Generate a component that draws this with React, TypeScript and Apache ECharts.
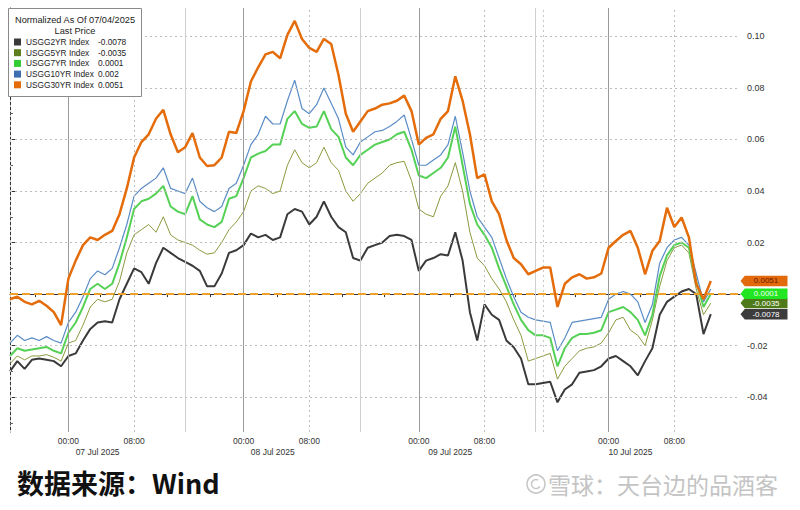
import React, { useEffect, useRef } from 'react';
import * as echarts from 'echarts';

const FONT = '"Liberation Sans", Arial, sans-serif';
const CJK = '"Noto Sans CJK SC", sans-serif';

const seriesNames = ['USGG2YR Index', 'USGG5YR Index', 'USGG7YR Index', 'USGG10YR Index', 'USGG30YR Index'];
const lastPrice = ['-0.0078', '-0.0035', '0.0001', '0.002', '0.0051'];
const lineColors = ['#3a3a3a', '#8a9a3e', '#55d155', '#5a8cc6', '#e46c0a'];
const legendColors = ['#3a3a3a', '#5d7d1e', '#33cc33', '#3f6fb0', '#e46c0a'];
const lineWidths = [2, 1, 2, 1.2, 2.5];
const tagColors = ['#3c3c3c', '#4f7a1a', '#22e622', '#3f6fb0', '#e26a0c'];
const tagText = ['#ffffff', '#ffffff', '#f2fff2', '#ffffff', '#6a1800'];
// the 10Y end tag is hidden behind the others in the reference
const showTag = [true, true, true, false, true];

// sampled values (normalized change since 07/04/2025), evenly spaced samples
const us2y = [
  -0.030, -0.026, -0.029, -0.0255, -0.025, -0.0255, -0.026, -0.028, -0.024, -0.023,
  -0.018, -0.0135, -0.011, -0.0105, -0.011, -0.002, 0.004, 0.010, 0.0085, 0.004,
  0.012, 0.018, 0.016, 0.014, 0.0125, 0.011, 0.009, 0.003, 0.003, 0.008,
  0.016, 0.017, 0.019, 0.0235, 0.022, 0.023, 0.021, 0.022, 0.031, 0.033,
  0.032, 0.027, 0.030, 0.036, 0.030, 0.026, 0.024, 0.014, 0.013, 0.018,
  0.019, 0.020, 0.0225, 0.023, 0.0225, 0.021, 0.009, 0.013, 0.014, 0.0155,
  0.015, 0.024, 0.013, -0.007, -0.018, -0.004, -0.008, -0.010, -0.018, -0.0206,
  -0.025, -0.035, -0.035, -0.0345, -0.034, -0.042, -0.037, -0.035, -0.0305, -0.030,
  -0.0295, -0.028, -0.025, -0.024, -0.026, -0.028, -0.0315, -0.026, -0.021, -0.008,
  -0.003, -0.001, 0.001, 0.002, 0.000, -0.0155, -0.0078,
];
const us5y = [
  -0.027, -0.024, -0.0255, -0.024, -0.024, -0.0235, -0.0245, -0.026, -0.019, -0.018,
  -0.012, -0.005, -0.002, -0.003, -0.002, 0.005, 0.016, 0.023, 0.025, 0.027,
  0.024, 0.030, 0.023, 0.021, 0.020, 0.019, 0.017, 0.0155, 0.016, 0.020,
  0.025, 0.028, 0.032, 0.040, 0.042, 0.041, 0.039, 0.040, 0.050, 0.056,
  0.051, 0.049, 0.051, 0.057, 0.051, 0.048, 0.040, 0.036, 0.039, 0.043,
  0.045, 0.047, 0.050, 0.051, 0.0515, 0.044, 0.033, 0.031, 0.030, 0.038,
  0.042, 0.051, 0.040, 0.024, 0.014, 0.011, 0.006, 0.002, -0.003, -0.010,
  -0.016, -0.026, -0.025, -0.024, -0.023, -0.033, -0.028, -0.025, -0.022, -0.021,
  -0.0205, -0.019, -0.015, -0.010, -0.009, -0.014, -0.016, -0.020, -0.010, 0.003,
  0.013, 0.018, 0.019, 0.016, 0.002, -0.008, -0.0035,
];
const us7y = [
  -0.024, -0.021, -0.022, -0.0215, -0.021, -0.0205, -0.022, -0.023, -0.015, -0.011,
  -0.005, 0.002, 0.004, 0.002, 0.004, 0.012, 0.022, 0.033, 0.036, 0.037,
  0.039, 0.042, 0.034, 0.032, 0.031, 0.038, 0.029, 0.027, 0.026, 0.028,
  0.037, 0.038, 0.045, 0.053, 0.0545, 0.0555, 0.058, 0.058, 0.068, 0.071,
  0.066, 0.0645, 0.065, 0.071, 0.064, 0.061, 0.053, 0.050, 0.054, 0.056,
  0.058, 0.059, 0.060, 0.062, 0.063, 0.056, 0.046, 0.045, 0.047, 0.049,
  0.053, 0.065, 0.050, 0.035, 0.027, 0.023, 0.018, 0.010, 0.003, -0.004,
  -0.010, -0.014, -0.016, -0.016, -0.017, -0.028, -0.021, -0.017, -0.0155, -0.0155,
  -0.015, -0.014, -0.007, -0.006, -0.005, -0.007, -0.010, -0.016, -0.008, 0.007,
  0.015, 0.019, 0.020, 0.018, 0.005, -0.005, 0.0001,
];
const us10y = [
  -0.019, -0.016, -0.018, -0.017, -0.018, -0.0165, -0.018, -0.019, -0.011, -0.007,
  -0.001, 0.006, 0.009, 0.0075, 0.010, 0.018, 0.027, 0.038, 0.041, 0.043,
  0.045, 0.049, 0.041, 0.040, 0.039, 0.045, 0.036, 0.0335, 0.032, 0.034,
  0.041, 0.043, 0.050, 0.058, 0.062, 0.069, 0.066, 0.066, 0.075, 0.083,
  0.072, 0.070, 0.0735, 0.080, 0.074, 0.068, 0.057, 0.054, 0.059, 0.061,
  0.063, 0.0635, 0.065, 0.067, 0.0695, 0.060, 0.050, 0.050, 0.052, 0.054,
  0.058, 0.069, 0.055, 0.040, 0.030, 0.026, 0.022, 0.014, 0.006, -0.001,
  -0.007, -0.009, -0.010, -0.0105, -0.011, -0.022, -0.017, -0.011, -0.0105, -0.010,
  -0.0095, -0.009, -0.002, 0.000, 0.001, 0.000, -0.003, -0.011, -0.004, 0.012,
  0.018, 0.021, 0.022, 0.019, 0.008, -0.003, 0.002,
];
const us30y = [
  -0.002, -0.001, -0.003, -0.004, -0.0026, -0.0045, -0.007, -0.012, 0.006, 0.013,
  0.019, 0.022, 0.021, 0.023, 0.0245, 0.031, 0.041, 0.053, 0.059, 0.062,
  0.068, 0.0715, 0.062, 0.055, 0.057, 0.0625, 0.053, 0.0497, 0.050, 0.053,
  0.063, 0.0625, 0.071, 0.0825, 0.088, 0.093, 0.094, 0.0915, 0.1006, 0.106,
  0.099, 0.0955, 0.094, 0.099, 0.097, 0.085, 0.070, 0.063, 0.067, 0.071,
  0.072, 0.0735, 0.074, 0.075, 0.077, 0.071, 0.058, 0.0606, 0.062, 0.068,
  0.071, 0.0845, 0.075, 0.062, 0.045, 0.0465, 0.036, 0.031, 0.021, 0.014,
  0.0116, 0.0077, 0.009, 0.0103, 0.0103, -0.005, 0.004, 0.0065, 0.0077, 0.006,
  0.0065, 0.008, 0.018, 0.0206, 0.023, 0.0245, 0.018, 0.0077, 0.0168, 0.0206,
  0.0335, 0.026, 0.0297, 0.022, 0.004, -0.002, 0.0051,
];
const allSeries = [us2y, us5y, us7y, us10y, us30y];

// x axis (sample-index units)
const xMax = 100;
const timeTickAt = [8, 17, 32, 41, 56, 65, 82, 91];
const timeTickLabels = ['00:00', '08:00', '00:00', '08:00', '00:00', '08:00', '00:00', '08:00'];
const minorTickAt = [3.4, 8, 12.3, 17, 21.5, 27.4, 32, 36.6, 41, 45.5, 51.2, 56, 60.3, 65, 69.2, 77.4, 82, 86.3, 91, 95.2];
const daySepAt = [0, 24, 48, 72];
const dayLabelAt = [12, 36, 60.3, 85];
const dayLabels = ['07 Jul 2025', '08 Jul 2025', '09 Jul 2025', '10 Jul 2025'];
const extraDottedAt = [0, 73];

// y axis
const yMin = -0.0535;
const yMax = 0.111;
const yLabelValues = [-0.04, -0.02, 0.02, 0.04, 0.06, 0.08, 0.1];
const yMajorTicks = [-0.04, -0.02, 0, 0.02, 0.04, 0.06, 0.08, 0.1];
const yMinorTicks = [-0.05, -0.03, -0.01, 0.01, 0.03, 0.05, 0.07, 0.09, 0.11];
const yGridLines = [-0.04, -0.02, 0.02, 0.04, 0.06, 0.08, 0.1];

export default function App() {
  const ref = useRef<HTMLDivElement>(null);

  useEffect(() => {
    if (!ref.current) return;
    const chart = echarts.init(ref.current, undefined, { renderer: 'svg' });

    const gridMarks: any[] = [];
    yGridLines.forEach((v) => gridMarks.push({ yAxis: v, lineStyle: { color: '#bdbdbd', type: [2, 3], width: 1 } }));
    timeTickAt.forEach((v, i) => {
      if (timeTickLabels[i] === '00:00') gridMarks.push({ xAxis: v, lineStyle: { color: '#9a9a9a', type: 'solid', width: 1 } });
      else gridMarks.push({ xAxis: v, lineStyle: { color: '#bdbdbd', type: [2, 3], width: 1 } });
    });
    daySepAt.forEach((v) => { if (v > 0) gridMarks.push({ xAxis: v, lineStyle: { color: '#cfcfcf', type: 'solid', width: 1 } }); });
    extraDottedAt.forEach((v) => gridMarks.push({ xAxis: v, lineStyle: { color: '#c8c8c8', type: [2, 3], width: 1 } }));

    const lineSeries = allSeries.map((arr, k) => {
      const s: any = {
        name: seriesNames[k],
        type: 'line',
        xAxisIndex: 0,
        yAxisIndex: 0,
        data: arr.map((v, i) => [i, v]),
        showSymbol: false,
        symbol: 'none',
        color: legendColors[k],
        lineStyle: { color: lineColors[k], width: lineWidths[k] },
        z: k === 3 ? 3 : k === 4 ? 6 : 4,
      };
      if (showTag[k]) {
        s.markPoint = {
          silent: true,
          symbol: 'path://M0,5L4,0L44,0L44,10L4,10Z',
          symbolSize: [47, 10.5],
          symbolOffset: [24, 0],
          symbolKeepAspect: false,
          itemStyle: { color: tagColors[k] },
          label: {
            show: true,
            position: 'inside',
            formatter: lastPrice[k],
            color: tagText[k],
            fontSize: 8,
            lineHeight: 9,
            fontFamily: FONT,
            offset: [2, 0],
          },
          data: [{ coord: [xMax, arr[arr.length - 1]] }],
        };
      }
      return s;
    });

    const option: any = {
      animation: false,
      backgroundColor: '#ffffff',
      grid: { left: 10, right: 60, top: 8, bottom: 78 },
      xAxis: [
        {
          type: 'value', min: 0, max: xMax, position: 'bottom',
          axisLine: { show: true, lineStyle: { color: '#333', width: 1 } },
          axisTick: { show: true, customValues: minorTickAt, length: 3, lineStyle: { color: '#333' } },
          axisLabel: {
            customValues: timeTickAt,
            formatter: (v: number) => { const i = timeTickAt.indexOf(v); return i >= 0 ? timeTickLabels[i] : ''; },
            fontSize: 8.5, color: '#333', margin: 4, fontFamily: FONT,
          },
          splitLine: { show: false },
        },
        {
          type: 'value', min: 0, max: xMax, position: 'bottom',
          axisLine: { show: false },
          axisTick: { show: true, customValues: daySepAt, length: 25, lineStyle: { color: '#333' } },
          axisLabel: {
            customValues: dayLabelAt,
            formatter: (v: number) => { const i = dayLabelAt.indexOf(v); return i >= 0 ? dayLabels[i] : ''; },
            fontSize: 8.5, color: '#333', margin: 15, fontFamily: FONT,
          },
          splitLine: { show: false },
        },
      ],
      yAxis: [
        {
          type: 'value', position: 'right', min: yMin, max: yMax,
          axisLine: { show: true, lineStyle: { color: '#333', width: 1 } },
          axisTick: { show: true, customValues: yMajorTicks, length: 5, lineStyle: { color: '#333' } },
          axisLabel: {
            customValues: yLabelValues,
            formatter: (v: number) => v.toFixed(2),
            fontSize: 9, color: '#333', margin: 7, fontFamily: FONT,
          },
          splitLine: { show: false },
        },
        {
          type: 'value', position: 'right', min: yMin, max: yMax,
          axisLine: { show: false },
          axisTick: { show: true, customValues: yMinorTicks, length: 3, lineStyle: { color: '#666' } },
          axisLabel: { show: false },
          splitLine: { show: false },
        },
      ],
      legend: {
        data: seriesNames,
        left: 14, top: 37, orient: 'vertical',
        itemWidth: 7, itemHeight: 7, itemGap: 0.7, icon: 'rect',
        selectedMode: false, z: 100, padding: 0,
        formatter: (name: string) => `{n|${name}}{v|${lastPrice[seriesNames.indexOf(name)]}}`,
        textStyle: {
          fontFamily: FONT, fontSize: 8.3, color: '#222', lineHeight: 10,
          rich: {
            n: { width: 72, fontSize: 8.3, fontFamily: FONT, color: '#222', lineHeight: 10 },
            v: { fontSize: 8.3, fontFamily: FONT, color: '#222', lineHeight: 10 },
          },
        },
      },
      graphic: [
        { type: 'rect', z: 50, shape: { x: 8.5, y: 8.5, width: 133, height: 88 }, style: { fill: '#ffffff', stroke: '#8a8a8a', lineWidth: 1 } },
        { type: 'text', z: 51, x: 75, y: 20, style: { text: 'Normalized As Of 07/04/2025', fill: '#222', font: `9.2px ${FONT}`, textAlign: 'center', textVerticalAlign: 'middle' } },
        { type: 'text', z: 51, x: 75, y: 31, style: { text: 'Last Price', fill: '#222', font: `9.2px ${FONT}`, textAlign: 'center', textVerticalAlign: 'middle' } },
        { type: 'text', x: 17, y: 482, style: { text: '数据来源：Wind', fill: '#111', font: `bold 27px ${CJK}`, textVerticalAlign: 'middle' } },
        { type: 'circle', shape: { cx: 536, cy: 484, r: 9 }, style: { fill: 'none', stroke: '#c8c8c8', lineWidth: 1.6 } },
        { type: 'arc', shape: { cx: 536, cy: 484, r: 4.5, startAngle: 0.6, endAngle: 5.2 }, style: { fill: 'none', stroke: '#c8c8c8', lineWidth: 1.6 } },
        { type: 'text', x: 548, y: 484, style: { text: '雪球：天台边的品酒客', fill: '#c4c4c4', font: `23px ${CJK}`, textVerticalAlign: 'middle' } },
      ],
      series: [
        {
          name: '__grid', type: 'line', data: [], z: 1, silent: true,
          markLine: { silent: true, symbol: ['none', 'none'], label: { show: false }, data: gridMarks },
        },
        ...lineSeries,
        {
          name: '__zero', type: 'line', data: [], z: 7, silent: true,
          markLine: {
            silent: true, symbol: ['none', 'none'], label: { show: false },
            data: [{ yAxis: 0, lineStyle: { color: '#eda22c', type: [8, 4], width: 2 } }],
          },
        },
      ],
    };

    chart.setOption(option);
    return () => chart.dispose();
  }, []);

  return (
    <div
      ref={ref}
      style={{ position: 'fixed', left: 0, top: 0, width: 800, height: 510, background: '#fff' }}
    />
  );
}
